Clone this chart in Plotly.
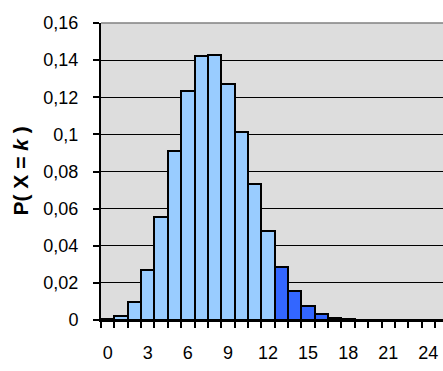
import plotly.graph_objects as go

k_values = list(range(0, 26))
probabilities = [0.0005, 0.0023, 0.0097, 0.0272, 0.0557, 0.0908, 0.1234, 0.1422,
                 0.1429, 0.1272, 0.1011, 0.0732, 0.0477, 0.0286, 0.0158, 0.0076,
                 0.0032, 0.0013, 0.0005, 0.0002, 0.0001, 0.0, 0.0, 0.0, 0.0, 0.0]
threshold = 13
light_blue = "#99CCFF"
dark_blue = "#3366FF"
colors = [light_blue if k < threshold else dark_blue for k in k_values]

y_tickvals = [0, 0.02, 0.04, 0.06, 0.08, 0.10, 0.12, 0.14, 0.16]
y_ticktext = ["0", "0,02", "0,04", "0,06", "0,08", "0,1", "0,12", "0,14", "0,16"]
x_tickvals = [0, 3, 6, 9, 12, 15, 18, 21, 24]
x_ticktext = [str(v) for v in x_tickvals]

font = "Liberation Sans, Arial, sans-serif"

fig = go.Figure(go.Bar(
    x=k_values, y=probabilities,
    marker=dict(color=colors, line=dict(color="black", width=2)),
    width=1,
))

fig.update_layout(
    width=443, height=371,
    margin=dict(l=101, r=0, t=23, b=51),
    plot_bgcolor="#DDDDDD", paper_bgcolor="white",
    bargap=0, showlegend=False,
    font=dict(family=font, size=18, color="black"),
    xaxis=dict(
        range=[-0.5, 25.1], tickvals=x_tickvals, ticktext=x_ticktext,
        ticks="", showgrid=False, zeroline=False,
        showline=True, linecolor="black", linewidth=2,
        tickfont=dict(size=18), ticklabelstandoff=15,
        minor=dict(tick0=-0.5, dtick=1, ticks="outside", ticklen=6,
                   tickwidth=2, tickcolor="black", showgrid=False),
    ),
    yaxis=dict(
        range=[0, 0.16], tickvals=y_tickvals, ticktext=y_ticktext,
        ticks="outside", ticklen=6, tickwidth=2, tickcolor="black",
        showgrid=True, gridcolor="black", gridwidth=1, zeroline=False,
        showline=True, linecolor="black", linewidth=2,
        tickfont=dict(size=18), ticklabelstandoff=11,
    ),
    shapes=[dict(type="line", xref="paper", yref="paper", x0=0, x1=1, y0=1, y1=1,
                 line=dict(color="#808080", width=1.5))],
    annotations=[dict(
        text="<b>P( X = <i>k</i> )</b>", textangle=-90,
        xref="paper", yref="paper", x=(20 - 101) / 342, y=0.5,
        xanchor="center", yanchor="middle", showarrow=False,
        font=dict(family=font, size=21, color="black"),
    )],
)

fig.write_html("out.html")
